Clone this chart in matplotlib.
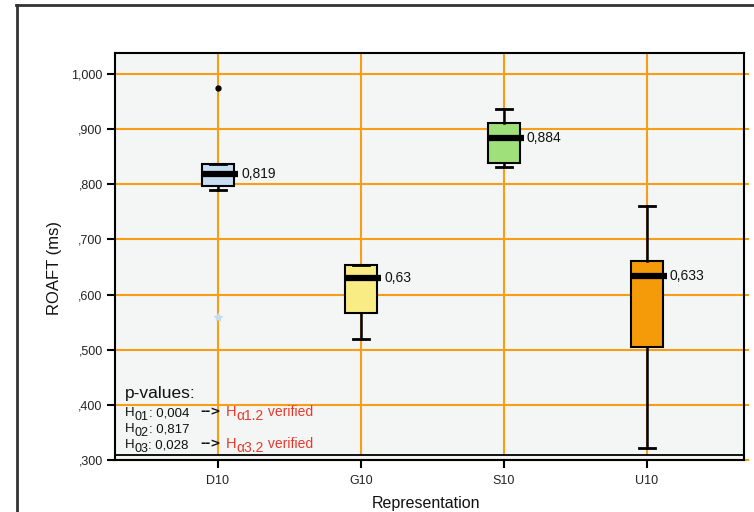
import matplotlib
matplotlib.use("Agg")
import matplotlib.pyplot as plt
from matplotlib.lines import Line2D

plt.rcParams['font.family'] = ['Liberation Sans', 'DejaVu Sans']

# data
groups = ['D10', 'G10', 'S10', 'U10']
whislo = [0.789, 0.520, 0.831, 0.322]
q1 = [0.797, 0.566, 0.839, 0.505]
med = [0.819, 0.630, 0.884, 0.633]
q3 = [0.836, 0.653, 0.911, 0.661]
whishi = [0.836, 0.654, 0.936, 0.761]
med_labels = ['0,819', '0,63', '0,884', '0,633']
outliers = [[0.975], [], [], []]
extremes = [[0.560], [], [], []]
box_colors = ['#c6dcf0', '#f9ec84', '#9fe07a', '#f59b0a']

yticks = [0.3, 0.4, 0.5, 0.6, 0.7, 0.8, 0.9, 1.0]
ytick_labels = [',300', ',400', ',500', ',600', ',700', ',800', ',900', '1,000']

p_names = ['01', '02', '03']
p_values = ['0,004', '0,817', '0,028']
p_verified = ['α1.2', None, 'α3.2']

W, H = 754, 512
grid_c = '#f59e16'
red = '#e8392b'
ink = '#111111'


def px(x, y):
    return x / W, 1 - y / H


fig = plt.figure(figsize=(W / 100, H / 100), dpi=100)
renderer = fig.canvas.get_renderer()


def run(x, y, pieces):
    # write pieces one after another on a baseline; dy in pixels (down)
    for txt, fs, col, dy in pieces:
        t = fig.text(*px(x, y + dy), txt, fontsize=fs, color=col,
                     va='baseline', ha='left')
        x += t.get_window_extent(renderer).width
    return x


ax = fig.add_axes([115 / W, 1 - 460 / H, 629 / W, 407 / H])
ax.set_facecolor('#f4f5f5')
ax.set_xlim(-0.72, 3.68)
ax.set_ylim(0.3, 1.038)

pos = list(range(len(groups)))

# grid
for y in yticks:
    ax.hlines(y, -0.72, 3.715, color=grid_c, lw=1.5, zorder=0.5, clip_on=False)
ax.vlines(pos, 0.309, 1.038, color=grid_c, lw=1.5, zorder=0.6)
ax.axhline(0.309, color='black', lw=1.3, zorder=3)

stats = []
for i in range(len(groups)):
    stats.append(dict(whislo=whislo[i], q1=q1[i], med=med[i], q3=q3[i],
                      whishi=whishi[i], fliers=[], label=groups[i]))
bw = 0.224
bp = ax.bxp(stats, positions=pos, widths=bw, capwidths=0.115,
            patch_artist=True, showfliers=False,
            boxprops=dict(lw=1.5, edgecolor='black'),
            whiskerprops=dict(lw=1.8, color='black'),
            capprops=dict(lw=2, color='black'),
            medianprops=dict(visible=False), zorder=2)
for patch, c in zip(bp['boxes'], box_colors):
    patch.set_facecolor(c)

ax.hlines(med, [p - bw / 2 for p in pos], [p + bw / 2 + 0.028 for p in pos],
          color='black', lw=4.5, zorder=4)
for p, m, lab in zip(pos, med, med_labels):
    ax.text(p + bw / 2 + 0.05, m, lab, fontsize=10, va='center', ha='left',
            color=ink, zorder=5)

for p, vals in zip(pos, outliers):
    if vals:
        ax.plot([p] * len(vals), vals, 'o', color='black', ms=3.5, zorder=5)
for p, vals in zip(pos, extremes):
    if vals:
        ax.plot([p] * len(vals), vals, '*', color=box_colors[0], ms=6, zorder=5)

ax.set_yticks(yticks)
ax.set_yticklabels(ytick_labels)
ax.set_xticks(pos)
ax.set_xticklabels(groups)
ax.tick_params(axis='both', direction='out', length=5.8, width=1.5,
               color='black', labelsize=9, labelcolor='#222222')
ax.tick_params(axis='y', pad=3)
ax.tick_params(axis='x', pad=5)
for s in ax.spines.values():
    s.set_linewidth(1.5)
    s.set_color('black')
    s.set_zorder(6)

# axis titles
fig.text(*px(426, 508), 'Representation', fontsize=11.5, ha='center',
         va='baseline', color=ink)
fig.text(*px(55, 268), 'ROAFT (ms)', fontsize=12, rotation=90, ha='center',
         va='center', color=ink)

# p-values box
fig.text(*px(125, 398), 'p-values:', fontsize=12.5, va='baseline', color=ink)
for i, (n, v, ver) in enumerate(zip(p_names, p_values, p_verified)):
    yb = 416.5 + 16 * i
    run(125, yb, [('H', 9.5, ink, 0), (n, 9, ink, 3), (': ' + v, 9.5, ink, 0)])
    if ver:
        fig.text(*px(200, yb - 1), '-->', fontsize=9, fontweight='bold',
                 family='DejaVu Sans', va='baseline', color=ink)
        run(226, yb, [('H', 10.5, red, 0), (ver, 10, red, 3.5),
                      (' verified', 10, red, -0.5)])

# outer frame
fig.add_artist(Line2D([16.5 / W, 16.5 / W], [0, 1 - 5 / H], color='#333333',
                      lw=2, transform=fig.transFigure))
fig.add_artist(Line2D([16 / W, 1], [1 - 5 / H, 1 - 5 / H], color='#333333',
                      lw=2, transform=fig.transFigure))

fig.savefig('out.png', dpi=100)
